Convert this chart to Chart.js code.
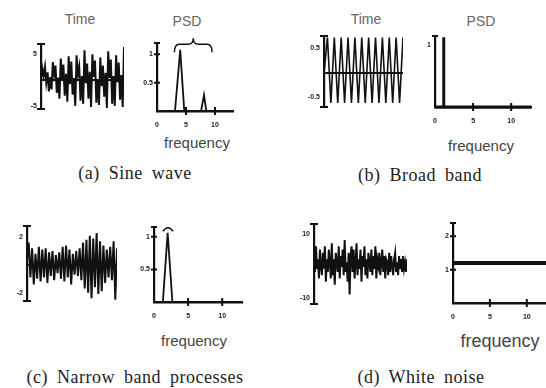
<!DOCTYPE html>
<html>
<head>
<meta charset="utf-8">
<script src="https://cdn.jsdelivr.net/npm/chart.js@4.4.0/dist/chart.umd.min.js"></script>
<style>
	body { margin: 0; background: #fff; }
	#page { position: relative; width: 546px; height: 388px; overflow: hidden; background: #fff; }
	#page canvas { position: absolute; }
	.txt { position: absolute; transform: translate(-50%, -50%); white-space: nowrap; }
	.title { font: 14px "Liberation Sans", Arial, sans-serif; color: #666; }
	.freq { font: 15px "Liberation Sans", Arial, sans-serif; color: #444; }
	.cap { font: 18px "Liberation Serif", "Times New Roman", serif; color: #222; word-spacing: 4px; letter-spacing: 0.5px; }
</style>
</head>
<body>
<div id="page">
	<div class="txt title" style="left:80px;top:19px">Time</div>
	<div class="txt title" style="left:187px;top:21px">PSD</div>
	<div class="txt title" style="left:366px;top:19px">Time</div>
	<div class="txt title" style="left:481px;top:21px">PSD</div>
	<div class="txt freq" style="left:197px;top:142px">frequency</div>
	<div class="txt freq" style="left:481px;top:145px">frequency</div>
	<div class="txt freq" style="left:194px;top:340px">frequency</div>
	<div class="txt freq" style="left:500px;top:341px;font-size:18px">frequency</div>
	<div class="txt cap" style="left:135px;top:173px">(a) Sine wave</div>
	<div class="txt cap" style="left:420px;top:175px">(b) Broad band</div>
	<div class="txt cap" style="left:135px;top:377px">(c) Narrow band processes</div>
	<div class="txt cap" style="left:421px;top:377px">(d) White noise</div>
</div>
<script>
// time signals (sample index -> amplitude)
const sineTime = [
	0, 2.2, 0.8, 2.6, -0.5, 1.5, -2.2, 0.6, -1.8, 3.5,
	1.0, 2.8, -2.5, 0.5, -3.6, 4.2, 0.2, 3.0, -3.0, 1.2,
	-4.2, 4.6, -0.8, 3.6, -2.8, 0.4, -5.0, 4.8, 1.2, 2.6,
	-4.0, 0.8, -4.6, 5.8, -0.6, 3.2, -3.6, 1.6, -5.2, 5.0,
	0.6, 3.8, -4.4, 0.2, -4.8, 4.4, -1.2, 2.8, -3.2, 1.4,
	-5.4, 5.6, 0.4, 4.0, -4.6, 0.8, -5.0, 4.8, -0.4, 3.4,
	-3.8, 1.0, -5.2, 6.4
];
const broadTime = [
	0, 0.72, -0.62, 0.72, -0.62, 0.72, -0.62, 0.72, -0.62, 0.72,
	-0.62, 0.72, -0.62, 0.72, -0.62, 0.72, -0.62, 0.72, -0.62, 0.72,
	-0.62, 0.72, -0.62, 0.72
];
const narrowTime = [
	0.4, 1.6, -0.9, 1.2, -1.4, 0.8, -1.0, 1.3, -1.2, 1.1,
	-0.9, 1.2, -1.3, 0.9, -0.8, 1.0, -1.1, 0.7, -0.6, 0.9,
	-1.0, 1.3, -1.2, 1.4, -0.9, 1.1, -1.4, 0.8, -0.7, 1.0,
	-0.8, 1.2, -1.1, 1.6, -1.7, 1.8, -2.0, 2.1, -2.4, 1.9,
	-1.6, 2.3, -2.1, 1.7, -1.9, 1.4, -1.3, 1.1, -0.9, 1.3,
	-1.1, 1.7, -2.5, 1.2
];
const whiteTime = [
	3, -2, 6, -1, 2, -4, 5, 0, -3, 4, -1, 6, -5, 2, -2, 5, 1, -4, 7, -3,
	2, -6, 4, 1, -2, 6, -4, 3, 0, 5, -3, 8, -2, 1, -5, 4, -9, 3, 6, -2,
	5, -4, 1, 7, -3, 2, -1, 5, -5, 3, 0, 6, -3, 2, -4, 4, 1, -2, 5, -3,
	3, -1, 6, -4, 2, 0, 4, -3, 1, 5, -2, 3, -4, 2, 1, -3, 4, -2, 3, 0,
	-3, 2, 4, -2, 1, -3, 3, -1, 2, -2, 3, -1, 1, -2, 2
];

// PSD curves (frequency, value)
const sinePsdFreq = [0, 3.1, 4.0, 4.7, 7.6, 8.1, 8.5, 13];
const sinePsdVal = [0, 0, 1.08, 0, 0, 0.28, 0, 0];
const broadPsdFreq = [0, 1.15, 1.15, 1.15, 12.6];
const broadPsdVal = [0, 0, 1.13, 0, 0];
const narrowPsdFreq = [0, 1.3, 2.0, 2.7, 12.9];
const narrowPsdVal = [0, 0, 1.06, 0, 0];
const whitePsdFreq = [0, 12.6];
const whitePsdVal = [1.2, 1.2];

// tick labels
const freqTicks = [0, 5, 10];
const sineTimeTicks = [-5, 0, 5];
const broadTimeTicks = [-0.5, 0, 0.5];
const narrowTimeTicks = [-2, 0, 2];
const whiteTimeTicks = [-10, 0, 10];
const sinePsdTicks = [0.5, 1];
const broadPsdTicks = [1];
const narrowPsdTicks = [0.5, 1];
const whitePsdTicks = [1, 2];

// brace over the sine PSD, arc over the narrow band peak (frequency range, level)
const sineBrace = [3.0, 9.5, 1.18];
const narrowArc = [1.3, 2.8, 1.13];

const INK = '#111';

(() => {
	'use strict'

	// caps on the y axis, crossing tick marks, brace and arc
	const marks = {
		id: 'marks',
		afterDraw(chart, args, o) {
			const ctx = chart.ctx;
			const a = chart.chartArea;
			const xs = chart.scales.x;
			const ys = chart.scales.y;
			const x0 = a.left;
			ctx.save();
			ctx.strokeStyle = INK;
			ctx.lineWidth = 2;
			ctx.beginPath();
			if (o.caps) {
				[a.top, a.bottom].forEach((y) => {
					ctx.moveTo(x0 - 4, y);
					ctx.lineTo(x0 + 4, y);
				});
			}
			if (o.topCap) {
				ctx.moveTo(x0 - 3, a.top);
				ctx.lineTo(x0 + 3, a.top);
			}
			if (o.yMarks) {
				ys.ticks.forEach((t) => {
					const y = ys.getPixelForValue(t.value);
					ctx.moveTo(x0 - 3, y);
					ctx.lineTo(x0 + 3, y);
				});
			}
			if (o.xMarks) {
				xs.ticks.forEach((t) => {
					if (t.value === 0) return;
					const x = xs.getPixelForValue(t.value);
					ctx.moveTo(x, a.bottom - 4);
					ctx.lineTo(x, a.bottom + 4);
				});
			}
			ctx.stroke();
			ctx.lineWidth = 1.5;
			if (o.brace) {
				const b1 = xs.getPixelForValue(o.brace[0]);
				const b2 = xs.getPixelForValue(o.brace[1]);
				const bm = (b1 + b2) / 2;
				const by = ys.getPixelForValue(o.brace[2]);
				ctx.beginPath();
				ctx.moveTo(b1, by + 8);
				ctx.quadraticCurveTo(b1, by, b1 + 5, by);
				ctx.lineTo(bm - 5, by);
				ctx.quadraticCurveTo(bm, by, bm, by - 6);
				ctx.quadraticCurveTo(bm, by, bm + 5, by);
				ctx.lineTo(b2 - 5, by);
				ctx.quadraticCurveTo(b2, by, b2, by + 8);
				ctx.stroke();
			}
			if (o.arc) {
				const c1 = xs.getPixelForValue(o.arc[0]);
				const c2 = xs.getPixelForValue(o.arc[1]);
				const cy = ys.getPixelForValue(o.arc[2]);
				ctx.beginPath();
				ctx.moveTo(c1, cy + 3);
				ctx.quadraticCurveTo((c1 + c2) / 2, cy - 4, c2, cy + 3);
				ctx.stroke();
			}
			ctx.restore();
		}
	};
	Chart.register(marks);

	const tickFont = { family: 'Liberation Sans', size: 7, weight: 'bold' };
	const page = document.getElementById('page');

	function makeCanvas(area, pad) {
		const c = document.createElement('canvas');
		const w = area.right - area.left + pad.l + pad.r;
		const h = area.bottom - area.top + pad.t + pad.b;
		c.width = w;
		c.height = h;
		c.style.left = (area.left - pad.l) + 'px';
		c.style.top = (area.top - pad.t) + 'px';
		c.style.width = w + 'px';
		c.style.height = h + 'px';
		page.appendChild(c);
		return c;
	}

	function yAxis(min, max, ticks, padL, zeroLine) {
		return {
			min: min,
			max: max,
			afterBuildTicks: (s) => { s.ticks = ticks.map((v) => ({ value: v })); },
			afterFit: (s) => { s.width = padL; s.paddingTop = 0; s.paddingBottom = 0; },
			border: { display: true, color: INK, width: 2.2 },
			grid: {
				drawTicks: false,
				drawOnChartArea: zeroLine,
				lineWidth: 2,
				color: (c) => (zeroLine && c.tick && c.tick.value === 0) ? INK : 'rgba(0,0,0,0)'
			},
			ticks: {
				padding: 4,
				color: '#222',
				font: tickFont,
				callback: (v) => (v === 0 ? '' : String(v))
			}
		};
	}

	// time history panel
	function timePlot(values, ticks, min, max, area, lineW) {
		const pad = { l: 20, t: 6, r: 2, b: 6 };
		new Chart(makeCanvas(area, pad), {
			type: 'line',
			data: {
				datasets: [{
					data: values.map((v, i) => ({ x: i, y: v })),
					borderColor: INK,
					borderWidth: lineW,
					pointRadius: 0,
					tension: 0
				}]
			},
			options: {
				responsive: false,
				animation: false,
				devicePixelRatio: 1,
				layout: { padding: { left: 0, top: pad.t, right: pad.r, bottom: pad.b } },
				plugins: { legend: { display: false }, tooltip: { enabled: false }, marks: { caps: true } },
				scales: {
					x: { type: 'linear', min: 0, max: values.length - 1, display: false },
					y: yAxis(min, max, ticks, pad.l, true)
				}
			}
		});
	}

	// power spectral density panel
	function psdPlot(freq, vals, yTicks, yMax, xMax, area, lineW, extra) {
		const pad = { l: 20, t: 12, r: area.right >= 546 ? 0 : 3, b: 20 };
		new Chart(makeCanvas(area, pad), {
			type: 'line',
			data: {
				datasets: [{
					data: freq.map((f, i) => ({ x: f, y: vals[i] })),
					borderColor: INK,
					borderWidth: lineW,
					pointRadius: 0,
					tension: 0,
					clip: 4
				}]
			},
			options: {
				responsive: false,
				animation: false,
				devicePixelRatio: 1,
				layout: { padding: { left: 0, top: pad.t, right: pad.r, bottom: 0 } },
				plugins: { legend: { display: false }, tooltip: { enabled: false }, marks: extra },
				scales: {
					x: {
						type: 'linear',
						min: 0,
						max: xMax,
						afterBuildTicks: (s) => { s.ticks = freqTicks.map((v) => ({ value: v })); },
						afterFit: (s) => { s.height = pad.b; s.paddingLeft = 0; s.paddingRight = 0; },
						border: { display: true, color: INK, width: 2.5 },
						grid: { display: false, drawTicks: false },
						ticks: { padding: 10, color: '#222', font: tickFont }
					},
					y: yAxis(0, yMax, yTicks, pad.l, false)
				}
			}
		});
	}

	/******************** (a) Sine wave ********************/
	timePlot(sineTime, sineTimeTicks, -5.6, 7, { left: 41, top: 44, right: 124, bottom: 109 }, 2);
	psdPlot(sinePsdFreq, sinePsdVal, sinePsdTicks, 1.2, 13.1,
		{ left: 157, top: 43, right: 233, bottom: 111 }, 1.8,
		{ topCap: true, yMarks: true, xMarks: true, brace: sineBrace });

	/******************** (b) Broad band ********************/
	timePlot(broadTime, broadTimeTicks, -0.7, 0.75, { left: 324, top: 36, right: 403, bottom: 107 }, 1.6);
	psdPlot(broadPsdFreq, broadPsdVal, broadPsdTicks, 1.15, 12.6,
		{ left: 435, top: 36, right: 531, bottom: 107 }, 3,
		{ topCap: true, xMarks: true });

	/******************** (c) Narrow band ********************/
	timePlot(narrowTime, narrowTimeTicks, -2.6, 2.8, { left: 27, top: 226, right: 117, bottom: 301 }, 2);
	psdPlot(narrowPsdFreq, narrowPsdVal, narrowPsdTicks, 1.15, 12.9,
		{ left: 154, top: 227, right: 242, bottom: 302 }, 1.8,
		{ topCap: true, yMarks: true, xMarks: true, arc: narrowArc });

	/******************** (d) White noise ********************/
	timePlot(whiteTime, whiteTimeTicks, -12, 13, { left: 314, top: 224, right: 407, bottom: 304 }, 2);
	psdPlot(whitePsdFreq, whitePsdVal, whitePsdTicks, 2.4, 12.6,
		{ left: 453, top: 223, right: 546, bottom: 303 }, 4,
		{ topCap: true, yMarks: true, xMarks: true });
})()
</script>
</body>
</html>
